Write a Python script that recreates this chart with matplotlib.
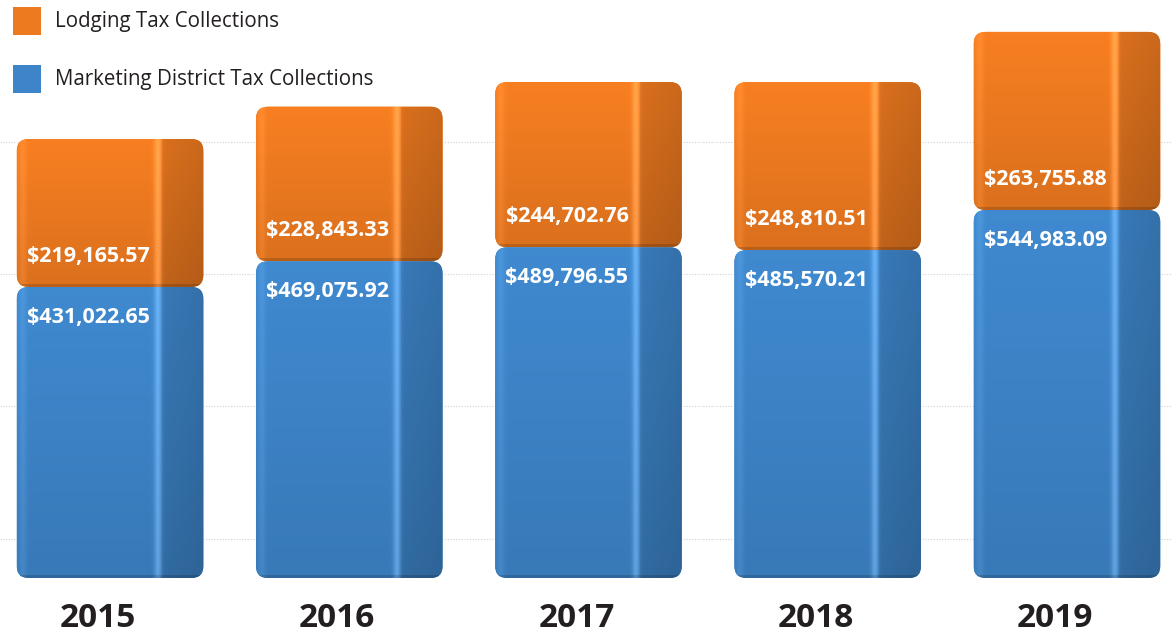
import numpy as np
import matplotlib
matplotlib.use("Agg")
import matplotlib.pyplot as plt
from matplotlib.patches import FancyBboxPatch, Rectangle
from matplotlib.colors import to_rgb

years = ["2015", "2016", "2017", "2018", "2019"]
marketing = [431022.65, 469075.92, 489796.55, 485570.21, 544983.09]
lodging = [219165.57, 228843.33, 244702.76, 248810.51, 263755.88]
series_names = ["Lodging Tax Collections", "Marketing District Tax Collections"]
grid_levels = [58000, 255000, 450000, 645000]

ORANGE = "#EE7A20"
BLUE = "#3D84C8"
TEXT = "#231F20"

W, H, DPI = 1171, 638, 100
fig = plt.figure(figsize=(W / DPI, H / DPI), dpi=DPI)
fig.patch.set_facecolor("white")

XMIN, XMAX = -0.46, 4.435
YMAX = 856000
# axes: baseline sits ~578px from the top, bars span the full width
ax = fig.add_axes([0, (H - 578) / H, 1, 578 / H])
ax.set_xlim(XMIN, XMAX)
ax.set_ylim(0, YMAX)
ax.axis("off")

for g in grid_levels:
    ax.axhline(g, color="#d2d2d2", linestyle=(0, (1, 1.5)), linewidth=0.8, zorder=0)

x = np.arange(len(years))
bw = 0.78
bars_blue = ax.bar(x, marketing, width=bw, color=BLUE, zorder=2)
bars_orange = ax.bar(x, lodging, bottom=marketing, width=bw, color=ORANGE, zorder=2)

# pixels per data unit, used to keep the corner rounding circular
px_x = W / (XMAX - XMIN)
px_y = 578 / YMAX
aspect = px_x / px_y


def shade_profile(n=400):
    # horizontal lighting: highlight just before the side face, darker side face
    t = np.linspace(0, 1, n)
    white = 0.16 * np.exp(-((t - 0.755) / 0.02) ** 2) + 0.05 * np.exp(-((t - 0.03) / 0.02) ** 2)
    black = np.where(t > 0.775, 0.12 + 0.06 * (t - 0.775) / 0.225, 0.0)
    black += 0.05 * np.exp(-((t - 0.77) / 0.008) ** 2)
    return white, black


def fancy(bar, color):
    bx, by = bar.get_x(), bar.get_y()
    w, h = bar.get_width(), bar.get_height()
    bar.set_visible(False)
    patch = FancyBboxPatch((bx, by), w, h,
                           boxstyle="round,pad=0,rounding_size=0.05",
                           mutation_aspect=aspect,
                           facecolor=color, edgecolor="none", zorder=2)
    ax.add_patch(patch)
    white, black = shade_profile()
    rgb = np.array(to_rgb(color))
    rows = 40
    vert = np.linspace(0.92, 1.04, rows)[:, None, None]
    base = rgb[None, None, :] * (1 - black[None, :, None]) * vert + white[None, :, None]
    img = np.ones((rows, len(white), 4))
    img[:, :, :3] = np.clip(base, 0, 1)
    im = ax.imshow(img, extent=(bx, bx + w, by, by + h), aspect="auto", origin="lower",
                   interpolation="bilinear", zorder=3)
    im.set_clip_path(patch)
    # thin dark seam at the bottom of each block
    seam = Rectangle((bx, by), w, 3 / px_y, facecolor="black", alpha=0.15,
                     edgecolor="none", zorder=4)
    ax.add_patch(seam)
    seam.set_clip_path(patch)


for b in bars_blue:
    fancy(b, BLUE)
for b in bars_orange:
    fancy(b, ORANGE)

ax.set_xlim(XMIN, XMAX)
ax.set_ylim(0, YMAX)

val_font = dict(color="white", fontsize=15.5, fontweight="bold", family="Open Sans",
                ha="center", va="center", zorder=6)
for i in range(len(years)):
    ax.annotate(f"${lodging[i]:,.2f}", (x[i] - 0.09, marketing[i]),
                xytext=(0, 22), textcoords="offset points", **val_font)
    ax.annotate(f"${marketing[i]:,.2f}", (x[i] - 0.09, marketing[i]),
                xytext=(0, -22), textcoords="offset points", **val_font)
    ax.annotate(years[i], (x[i] - 0.05, 0), xytext=(0, -29), textcoords="offset points",
                ha="center", va="center", fontsize=24, fontweight="bold",
                family="Open Sans", color=TEXT, annotation_clip=False)

# legend squares and labels, placed in figure pixels
for j, (name, col) in enumerate(zip(series_names, [ORANGE, BLUE])):
    ytop = 7 + j * 58
    fig.patches.append(Rectangle((13 / W, 1 - (ytop + 28) / H), 28 / W, 28 / H,
                                 transform=fig.transFigure, facecolor=col,
                                 edgecolor="none"))
    fig.text(55 / W, 1 - (ytop + 14) / H, name, fontsize=14.8, color=TEXT,
             family="Open Sans", va="center", ha="left")

fig.savefig("out.png", dpi=DPI, facecolor="white")
